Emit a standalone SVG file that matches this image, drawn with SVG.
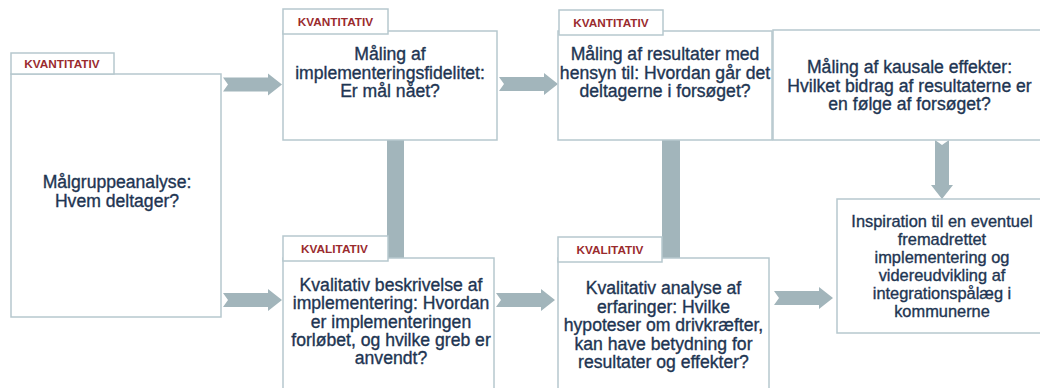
<svg xmlns="http://www.w3.org/2000/svg" width="1040" height="388" viewBox="0 0 1040 388">
<style>
.box{fill:#fff;stroke:#b6c8ce;stroke-width:1.5}
.arr{fill:#a2b5bb}
.t{font-family:"Liberation Sans",Arial,sans-serif;font-size:17.6px;fill:#1e3552;stroke:#1e3552;stroke-width:0.35;text-anchor:middle}
.t7{font-size:16.4px}
.lab{font-family:"Liberation Sans",Arial,sans-serif;font-size:11.8px;font-weight:bold;fill:#9a2b2e;text-anchor:middle}
</style>
<defs>
<path id="harrow" d="M0,-7 L45,-7 L45,-11 L59,0 L45,11 L45,7 L0,7 L5,0 Z"/>
</defs>
<rect width="1040" height="388" fill="#fff"/>
<g id="connectors" class="arr">
<rect x="387" y="139" width="17" height="120"/>
<rect x="662" y="139" width="18" height="120"/>
<use href="#harrow" transform="translate(223,84.5)"/>
<use href="#harrow" transform="translate(499,84)"/>
<use href="#harrow" transform="translate(223,300)"/>
<use href="#harrow" transform="translate(496,300)"/>
<use href="#harrow" transform="translate(774,298)"/>
<use href="#harrow" transform="translate(942,140) rotate(90)"/>
</g>
<g id="node-malgruppe">
<rect class="box" x="11" y="74" width="210" height="243"/>
<rect class="box" x="11" y="53" width="103" height="21"/>
<text class="lab" x="62" y="67.5">KVANTITATIV</text>
<text class="t"><tspan x="117" y="188">Målgruppeanalyse:</tspan><tspan x="117" y="207">Hvem deltager?</tspan></text>
</g>
<g id="node-implementeringsfidelitet">
<rect class="box" x="283" y="31" width="214" height="109"/>
<rect class="box" x="283" y="9" width="105" height="25"/>
<text class="lab" x="335.5" y="26">KVANTITATIV</text>
<text class="t"><tspan x="390" y="60">Måling af</tspan><tspan x="390" y="78.5">implementeringsfidelitet:</tspan><tspan x="390" y="97">Er mål nået?</tspan></text>
</g>
<g id="node-kvalitativ-beskrivelse">
<rect class="box" x="283" y="258" width="211" height="142"/>
<rect class="box" x="283" y="236" width="105" height="25"/>
<text class="lab" x="334.5" y="252.5">KVALITATIV</text>
<text class="t"><tspan x="391" y="291">Kvalitativ beskrivelse af</tspan><tspan x="391" y="309.3">implementering: Hvordan</tspan><tspan x="391" y="327.6">er implementeringen</tspan><tspan x="391" y="345.9">forløbet, og hvilke greb er</tspan><tspan x="391" y="364.2">anvendt?</tspan></text>
</g>
<g id="node-resultater">
<rect class="box" x="558" y="31" width="214" height="109"/>
<rect class="box" x="559" y="10" width="104" height="25"/>
<text class="lab" x="611" y="27">KVANTITATIV</text>
<text class="t"><tspan x="665" y="60">Måling af resultater med</tspan><tspan x="665" y="78.5">hensyn til: Hvordan går det</tspan><tspan x="665" y="97">deltagerne i forsøget?</tspan></text>
</g>
<g id="node-kvalitativ-analyse">
<rect class="box" x="558" y="258" width="211" height="142"/>
<rect class="box" x="558" y="237" width="104" height="25"/>
<text class="lab" x="610" y="253.5">KVALITATIV</text>
<text class="t"><tspan x="663.5" y="294">Kvalitativ analyse af</tspan><tspan x="663.5" y="312.5">erfaringer: Hvilke</tspan><tspan x="663.5" y="331">hypoteser om drivkræfter,</tspan><tspan x="663.5" y="349.5">kan have betydning for</tspan><tspan x="663.5" y="368">resultater og effekter?</tspan></text>
</g>
<g id="node-kausale">
<rect class="box" x="773" y="30" width="290" height="110"/>
<text class="t"><tspan x="909.5" y="73">Måling af kausale effekter:</tspan><tspan x="909.5" y="91.5">Hvilket bidrag af resultaterne er</tspan><tspan x="909.5" y="110">en følge af forsøget?</tspan></text>
</g>
<g id="node-inspiration">
<rect class="box" x="837" y="199" width="220" height="134"/>
<text class="t t7"><tspan x="942" y="227">Inspiration til en eventuel</tspan><tspan x="942" y="245">fremadrettet</tspan><tspan x="942" y="263">implementering og</tspan><tspan x="942" y="281">videreudvikling af</tspan><tspan x="942" y="299">integrationspålæg i</tspan><tspan x="942" y="317">kommunerne</tspan></text>
</g>
</svg>
